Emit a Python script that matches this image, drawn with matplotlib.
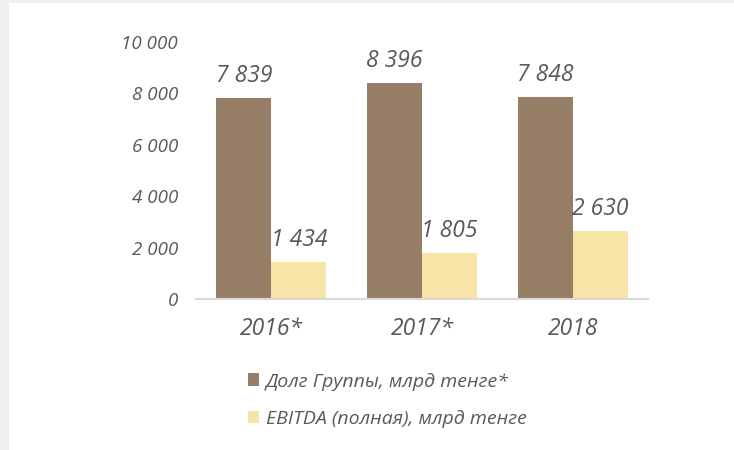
import numpy as np
import matplotlib.pyplot as plt
from matplotlib.patches import Rectangle
from matplotlib.ticker import FuncFormatter

years = ['2016*', '2017*', '2018']
debt = [7839, 8396, 7848]
ebitda = [1434, 1805, 2630]
series_names = ['Долг Группы, млрд тенге*', 'EBITDA (полная), млрд тенге']

DEBT_COLOR = '#967f66'
EBITDA_COLOR = '#f9e4a8'
TEXT_COLOR = '#595959'

plt.rcParams['font.family'] = ['Open Sans', 'DejaVu Sans']
plt.rcParams['font.style'] = 'italic'

fig = plt.figure(figsize=(7.34, 4.5), dpi=100, facecolor='#f0f0f0')
# white page area with a thin grey margin at top and left
fig.patches.append(Rectangle((9 / 734, 0), 1, 1 - 3 / 450, transform=fig.transFigure,
                             facecolor='white', edgecolor='none', zorder=-10))

ax = fig.add_axes([196 / 734, 1 - 299 / 450, 452 / 734, 257 / 450])
ax.set_facecolor('none')
ax.set_zorder(1)

x = np.arange(len(years))
w = 0.364
b1 = ax.bar(x - w / 2, debt, w, color=DEBT_COLOR, label=series_names[0])
b2 = ax.bar(x + w / 2, ebitda, w, color=EBITDA_COLOR, label=series_names[1])

def spaced(v, _=None):
    return f'{int(v):,}'.replace(',', ' ')

for bars, vals in ((b1, debt), (b2, ebitda)):
    for r, v in zip(bars, vals):
        ax.annotate(spaced(v), (r.get_x() + r.get_width() / 2, v),
                    xytext=(0, 11.5), textcoords='offset points',
                    ha='center', va='baseline', fontsize=16.5,
                    color=TEXT_COLOR, style='italic')

ax.set_xlim(-0.5, 2.5)
ax.set_ylim(0, 10000)
ax.set_yticks(range(0, 10001, 2000))
ax.yaxis.set_major_formatter(FuncFormatter(spaced))
ax.set_xticks(x)
ax.set_xticklabels(years)

ax.tick_params(axis='y', length=0, pad=13, labelsize=13.5, labelcolor=TEXT_COLOR)
ax.tick_params(axis='x', length=0, pad=13, labelsize=16.5, labelcolor=TEXT_COLOR)
for lbl in ax.get_xticklabels() + ax.get_yticklabels():
    lbl.set_style('italic')

for s in ('top', 'right', 'left'):
    ax.spines[s].set_visible(False)
ax.spines['bottom'].set_color('#d9d9d9')
ax.spines['bottom'].set_linewidth(1.5)

leg = fig.legend(handles=[b1, b2], loc='upper left',
                 bbox_to_anchor=(230 / 734, 1 - 355 / 450),
                 frameon=False, handlelength=0.6, handleheight=0.6,
                 handletextpad=0.35, labelspacing=1.0,
                 prop={'size': 14, 'style': 'italic'})
for t in leg.get_texts():
    t.set_color(TEXT_COLOR)

fig.savefig('out.png', dpi=100, facecolor=fig.get_facecolor())
